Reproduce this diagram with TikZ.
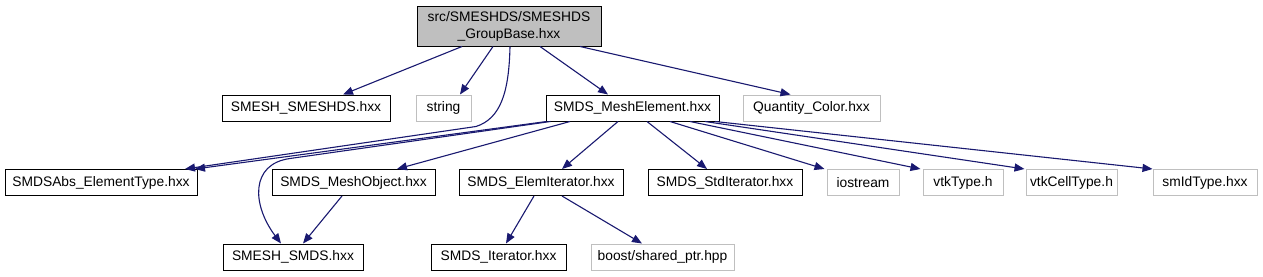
\documentclass[tikz,border=0pt]{standalone}
\usepackage{fontspec}
\setmainfont{Liberation Sans}
\usetikzlibrary{arrows.meta}
\definecolor{edgeblue}{HTML}{191970}
\definecolor{greyline}{HTML}{BFBFBF}
\begin{document}
\begin{tikzpicture}[x=1pt,y=-1pt,
  box/.style={draw=black,line width=1pt,inner sep=0pt,minimum height=26pt,font=\fontsize{13.8}{17}\selectfont,fill=white},
  gbox/.style={box,draw=greyline},
  edge/.style={draw=edgeblue,line width=1.1pt,-{Triangle[length=10pt,width=8pt]}}]
\useasboundingbox (0,0) rectangle (1263,276);
\fill[white] (0,0) rectangle (1263,276);
% nodes
\node[box,fill=greyline,minimum width=184pt,minimum height=40pt,align=center] (top) at (509,26) {src/SMESHDS/SMESHDS\\\_GroupBase.hxx};
\node[box,minimum width=168pt] (smeshds) at (306,108) {SMESH\_SMESHDS.hxx};
\node[gbox,minimum width=55pt] (string) at (443.5,108) {string};
\node[box,minimum width=173pt] (meshel) at (632.5,108) {SMDS\_MeshElement.hxx};
\node[gbox,minimum width=137pt] (quantity) at (811.5,108) {Quantity\_Color.hxx};
\node[box,minimum width=192pt] (sabs) at (101,182.5) {SMDSAbs\_ElementType.hxx};
\node[box,minimum width=163pt] (meshobj) at (353.5,182.5) {SMDS\_MeshObject.hxx};
\node[box,minimum width=164pt] (elemit) at (541,182.5) {SMDS\_ElemIterator.hxx};
\node[box,minimum width=154pt] (stdit) at (725,182.5) {SMDS\_StdIterator.hxx};
\node[gbox,minimum width=72pt] (iostream) at (863,182.5) {iostream};
\node[gbox,minimum width=80pt] (vtktype) at (963,182.5) {vtkType.h};
\node[gbox,minimum width=91pt] (vtkcell) at (1071.5,182.5) {vtkCellType.h};
\node[gbox,minimum width=104pt] (smid) at (1205,182.5) {smIdType.hxx};
\node[box,minimum width=140pt] (smds) at (293,257) {SMESH\_SMDS.hxx};
\node[box,minimum width=135pt] (iter) at (498.5,257) {SMDS\_Iterator.hxx};
\node[gbox,minimum width=143pt] (boost) at (662.5,257) {boost/shared\_ptr.hpp};
% edges from top
\draw[edge] ([xshift=-47pt]top.south) -- ([xshift=37pt]smeshds.north);
\draw[edge] ([xshift=-16pt]top.south) -- ([xshift=16.5pt]string.north);
\draw[edge] ([xshift=31pt]top.south) -- ([xshift=-24.5pt]meshel.north);
\draw[edge] ([xshift=71pt]top.south) -- ([xshift=-21pt]quantity.north);
\draw[edge] ([xshift=1pt]top.south) .. controls +(-1,45) and +(25,-8) .. ++(-34,80) -- ([xshift=84pt]sabs.north);
% edges from meshel
\draw[edge] ([xshift=-86pt]meshel.south) -- ([xshift=94pt]sabs.north);
\draw[edge] ([xshift=-82pt]meshel.south) -- (290,158.5) .. controls (250,164) and (252,205) .. ([xshift=-12pt]smds.north);
\draw[edge] ([xshift=-62.5pt]meshel.south) -- ([xshift=43.5pt]meshobj.north);
\draw[edge] ([xshift=-14.5pt]meshel.south) -- ([xshift=21pt]elemit.north);
\draw[edge] ([xshift=14.5pt]meshel.south) -- ([xshift=-18pt]stdit.north);
\draw[edge] ([xshift=37.5pt]meshel.south) -- ([xshift=-2pt]iostream.north west);
\draw[edge] ([xshift=57.5pt]meshel.south) -- ([xshift=-2pt]vtktype.north west);
\draw[edge] ([xshift=72.5pt]meshel.south) -- ([xshift=-1pt]vtkcell.north west);
\draw[edge] ([xshift=82.5pt]meshel.south) -- ([xshift=0pt]smid.north west);
% lower edges
\draw[edge] ([xshift=-11.5pt]meshobj.south) -- ([xshift=10pt]smds.north);
\draw[edge] ([xshift=-7pt]elemit.south) -- ([xshift=7.5pt]iter.north);
\draw[edge] ([xshift=21pt]elemit.south) -- ([xshift=-20.5pt]boost.north);
\end{tikzpicture}
\end{document}
